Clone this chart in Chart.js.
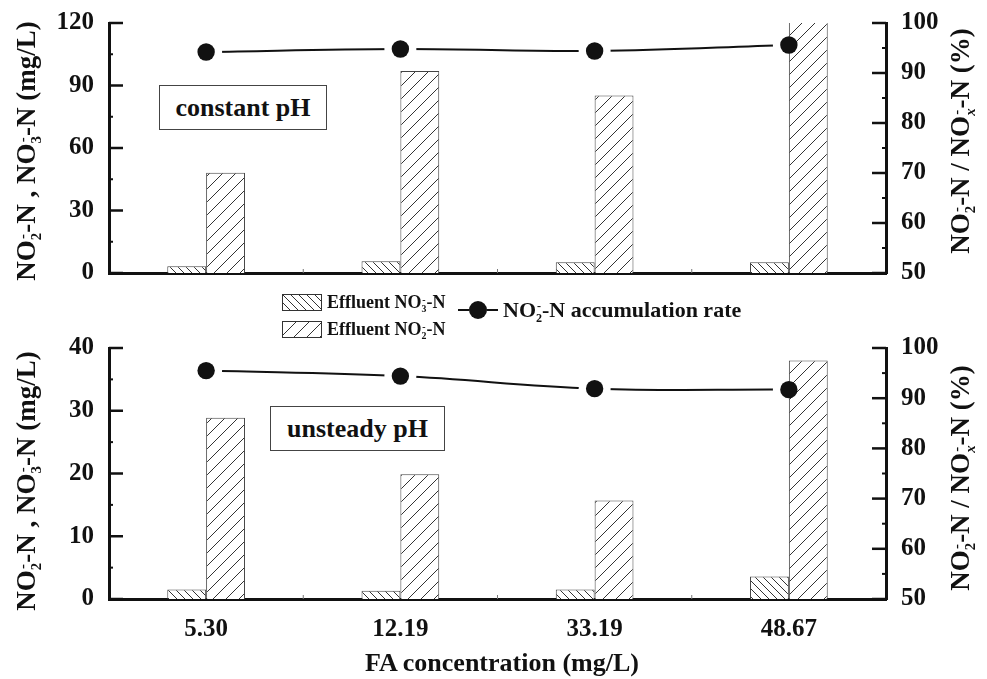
<!DOCTYPE html>
<html>
<head>
<meta charset="utf-8">
<script src="https://cdn.jsdelivr.net/npm/chart.js@4.4.1/dist/chart.umd.min.js"></script>
<style>
  body { margin: 0; background: #fff; }
  #wrap { position: relative; width: 987px; height: 679px; overflow: hidden; font-family: 'Liberation Serif', 'Times New Roman', serif; font-weight: bold; color: #111; }
  .cv { position: absolute; left: 0; }
  .txt { position: absolute; white-space: nowrap; line-height: 1; }
  .rot { transform: translate(-50%, -50%) rotate(-90deg); }
  .ctr { transform: translate(-50%, -50%); }
  .ss { display: inline-block; vertical-align: -0.4em; font-size: 0.55em; line-height: 0.95em; text-align: center; }
  .ss i { display: block; font-style: normal; }
  .box { position: absolute; border: 1px solid #444; background: #fff; font-size: 26px; display: flex; align-items: center; justify-content: center; }
  .sw { position: absolute; border: 1px solid #333; }
</style>
</head>
<body>
<div id="wrap">
  <canvas id="topChart" class="cv" style="top:-7px" width="987" height="310"></canvas>
  <canvas id="botChart" class="cv" style="top:318px" width="987" height="361"></canvas>

  <div class="txt rot" style="left:28px;top:151px;font-size:27px">NO<span class="ss"><i>-</i><i>2</i></span>-N , NO<span class="ss"><i>-</i><i>3</i></span>-N (mg/L)</div>
  <div class="txt rot" style="left:28px;top:481px;font-size:27px">NO<span class="ss"><i>-</i><i>2</i></span>-N , NO<span class="ss"><i>-</i><i>3</i></span>-N (mg/L)</div>
  <div class="txt rot" style="left:962px;top:141px;font-size:27px">NO<span class="ss"><i>-</i><i>2</i></span>-N / NO<span class="ss"><i>-</i><i style="font-style:italic">x</i></span>-N (%)</div>
  <div class="txt rot" style="left:962px;top:478px;font-size:27px">NO<span class="ss"><i>-</i><i>2</i></span>-N / NO<span class="ss"><i>-</i><i style="font-style:italic">x</i></span>-N (%)</div>
  <div class="txt ctr" style="left:502px;top:663px;font-size:26px">FA concentration (mg/L)</div>

  <div class="box" style="left:159px;top:85px;width:166px;height:43px">constant pH</div>
  <div class="box" style="left:270px;top:406px;width:173px;height:43px">unsteady pH</div>

  <canvas id="sw1" class="sw" style="left:282px;top:294px" width="38" height="15"></canvas>
  <div class="txt" style="left:327px;top:293px;font-size:18px">Effluent NO<span class="ss"><i>-</i><i>3</i></span>-N</div>
  <canvas id="sw2" class="sw" style="left:282px;top:321px" width="38" height="15"></canvas>
  <div class="txt" style="left:327px;top:320px;font-size:18px">Effluent NO<span class="ss"><i>-</i><i>2</i></span>-N</div>

  <div style="position:absolute;left:458px;top:309px;width:11px;height:2px;background:#111"></div>
  <div style="position:absolute;left:469px;top:301px;width:18px;height:18px;border-radius:50%;background:#111"></div>
  <div style="position:absolute;left:487px;top:309px;width:11px;height:2px;background:#111"></div>
  <div class="txt" style="left:503px;top:299px;font-size:22px">NO<span class="ss"><i>-</i><i>2</i></span>-N accumulation rate</div>
</div>

<script>
// categories (FA concentration, mg/L)
const faLabels = ['5.30', '12.19', '33.19', '48.67'];

// constant pH panel
const constNO3 = [3.3, 5.7, 5.2, 5.2];
const constNO2 = [48.1, 97.0, 85.2, 126];
const constRate = [94.2, 94.8, 94.4, 95.6];

// unsteady pH panel
const unstNO3 = [1.5, 1.3, 1.5, 3.6];
const unstNO2 = [28.9, 19.9, 15.7, 38.0];
const unstRate = [95.5, 94.4, 91.9, 91.7];

// axis ticks
const topLeftTicks = [0, 30, 60, 90, 120];
const botLeftTicks = [0, 10, 20, 30, 40];
const rateTicks = [50, 60, 70, 80, 90, 100];

const ink = '#111';
const font = { family: "'Liberation Serif', 'Times New Roman', serif", size: 25, weight: 'bold' };

function hatch(tile, back) {
  const c = document.createElement('canvas');
  c.width = c.height = tile;
  const g = c.getContext('2d');
  g.fillStyle = '#fff';
  g.fillRect(0, 0, tile, tile);
  g.strokeStyle = '#333';
  g.lineWidth = 1;
  g.beginPath();
  for (let k = -1; k <= 1; k++) {
    if (back) {
      g.moveTo(k * tile, 0);
      g.lineTo(k * tile + tile, tile);
    } else {
      g.moveTo(k * tile, tile);
      g.lineTo(k * tile + tile, 0);
    }
  }
  g.stroke();
  return g.createPattern(c, 'repeat');
}

const no3Pattern = hatch(8, true);
const no2Pattern = hatch(13, false);

// legend swatches
['sw1', 'sw2'].forEach((id, i) => {
  const g = document.getElementById(id).getContext('2d');
  g.fillStyle = i === 0 ? hatch(8, true) : hatch(13, false);
  g.fillRect(0, 0, 38, 15);
});

// inward major/minor ticks on the y axes, small marks between categories
function innerTicks(leftTicks) {
  return {
    id: 'innerTicks',
    afterDatasetsDraw(chart) {
      const ctx = chart.ctx;
      const area = chart.chartArea;
      const sets = [
        { s: chart.scales.y, vals: leftTicks, x0: area.left, dir: 1 },
        { s: chart.scales.y1, vals: rateTicks, x0: area.right, dir: -1 }
      ];
      ctx.save();
      ctx.strokeStyle = ink;
      sets.forEach(o => {
        o.vals.forEach((v, i) => {
          const y = o.s.getPixelForValue(v);
          ctx.lineWidth = 2.5;
          ctx.beginPath(); ctx.moveTo(o.x0, y); ctx.lineTo(o.x0 + o.dir * 14, y); ctx.stroke();
          if (i < o.vals.length - 1) {
            const ym = o.s.getPixelForValue((v + o.vals[i + 1]) / 2);
            ctx.lineWidth = 2;
            ctx.beginPath(); ctx.moveTo(o.x0, ym); ctx.lineTo(o.x0 + o.dir * 4, ym); ctx.stroke();
          }
        });
      });
      const xs = chart.scales.x;
      ctx.strokeStyle = '#777';
      ctx.lineWidth = 1;
      for (let i = 1; i < faLabels.length; i++) {
        const x = (xs.getPixelForValue(i - 1) + xs.getPixelForValue(i)) / 2;
        ctx.beginPath(); ctx.moveTo(x, area.bottom); ctx.lineTo(x, area.bottom - 4); ctx.stroke();
      }
      ctx.restore();
    }
  };
}

// leave a white gap in the line around each marker
const lineGaps = {
  id: 'lineGaps',
  beforeDatasetDraw(chart, args) {
    if (!chart.data.datasets[args.index].gapLine) return;
    const pts = chart.getDatasetMeta(args.index + 1).data;
    const ctx = chart.ctx;
    ctx.save();
    ctx.beginPath();
    ctx.rect(0, 0, chart.width, chart.height);
    pts.forEach(p => {
      ctx.moveTo(p.x + 16, p.y);
      ctx.arc(p.x, p.y, 16, 0, Math.PI * 2);
    });
    ctx.clip('evenodd');
  },
  afterDatasetDraw(chart, args) {
    if (!chart.data.datasets[args.index].gapLine) return;
    chart.ctx.restore();
  }
};

function makePanel(id, no3, no2, rate, leftTicks, xHeight, showX) {
  const ctx = document.getElementById(id).getContext('2d');
  return new Chart(ctx, {
    type: 'bar',
    data: {
      labels: faLabels,
      datasets: [
        {
          label: 'Effluent NO3-N', data: no3, yAxisID: 'y',
          backgroundColor: no3Pattern, borderColor: '#444', borderWidth: 1,
          categoryPercentage: 0.4, barPercentage: 1.0, order: 3
        },
        {
          label: 'Effluent NO2-N', data: no2, yAxisID: 'y',
          backgroundColor: no2Pattern, borderColor: '#444', borderWidth: 1,
          categoryPercentage: 0.4, barPercentage: 1.0, order: 3
        },
        {
          type: 'line', label: 'NO2-N accumulation rate', data: rate, yAxisID: 'y1',
          gapLine: true, borderColor: ink, borderWidth: 2, tension: 0.4,
          pointRadius: 0, fill: false, order: 2
        },
        {
          type: 'line', label: 'rate points', data: rate, yAxisID: 'y1',
          showLine: false, pointRadius: 8.7, pointBackgroundColor: ink,
          pointBorderColor: ink, pointBorderWidth: 0, order: 1
        }
      ]
    },
    options: {
      responsive: false,
      animation: false,
      layout: { padding: 0 },
      plugins: { legend: { display: false }, tooltip: { enabled: false } },
      scales: {
        x: {
          offset: true,
          grid: { display: false },
          border: { display: true, width: 3, color: ink },
          ticks: { display: showX, color: ink, font: font, padding: 8, maxRotation: 0 },
          afterFit: s => { s.height = xHeight; }
        },
        y: {
          position: 'left',
          min: leftTicks[0], max: leftTicks[leftTicks.length - 1],
          grid: { display: false, drawTicks: false },
          border: { display: true, width: 3, color: ink },
          ticks: { stepSize: leftTicks[1] - leftTicks[0], color: ink, font: font, padding: 15 },
          afterFit: s => { s.width = 109; }
        },
        y1: {
          position: 'right',
          min: rateTicks[0], max: rateTicks[rateTicks.length - 1],
          grid: { display: false, drawTicks: false },
          border: { display: true, width: 3, color: ink },
          ticks: { stepSize: rateTicks[1] - rateTicks[0], color: ink, font: font, padding: 15 },
          afterFit: s => { s.width = 101; }
        }
      }
    },
    plugins: [innerTicks(leftTicks), lineGaps]
  });
}

const topChart = makePanel('topChart', constNO3, constNO2, constRate, topLeftTicks, 29, false);
const botChart = makePanel('botChart', unstNO3, unstNO2, unstRate, botLeftTicks, 80, true);
</script>
</body>
</html>
